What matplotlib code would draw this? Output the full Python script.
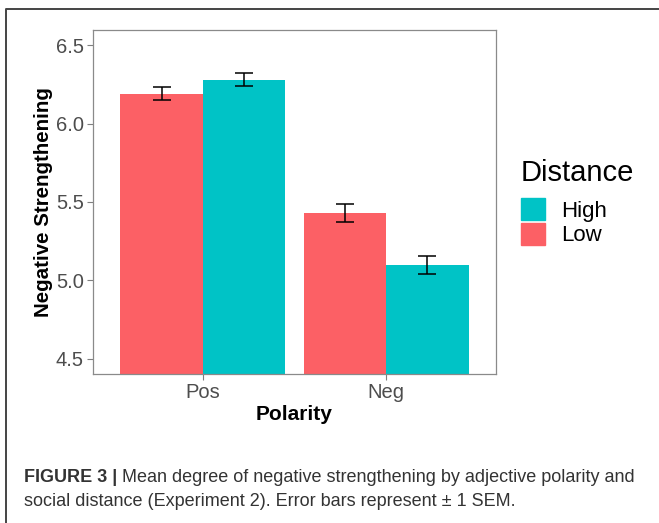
import matplotlib
matplotlib.use('Agg')
import matplotlib.pyplot as plt
from matplotlib.patches import Patch
from matplotlib.lines import Line2D
import numpy as np

plt.rcParams['font.family'] = ['Liberation Sans', 'DejaVu Sans']

# data
polarity = ['Pos', 'Neg']
distance = ['Low', 'High']
low_means = [6.19, 5.43]
high_means = [6.28, 5.10]
low_sem = [0.043, 0.057]
high_sem = [0.040, 0.058]
yticks = [4.5, 5.0, 5.5, 6.0, 6.5]

col_low = '#FC6065'
col_high = '#00C3C6'

fig = plt.figure(figsize=(6.59, 5.23), dpi=100)
ax = fig.add_axes([93 / 659, 1 - 374 / 523, 403 / 659, 344 / 523])

x = np.arange(len(polarity)) + 1
w = 0.45
err_kw = dict(ecolor='black', elinewidth=1.1, capsize=6.5, capthick=1.1)
ax.bar(x - w / 2, low_means, w, color=col_low, yerr=low_sem, error_kw=err_kw)
ax.bar(x + w / 2, high_means, w, color=col_high, yerr=high_sem, error_kw=err_kw)

ax.set_xlim(0.4, 2.6)
ax.set_ylim(4.404, 6.596)
ax.set_xticks(x)
ax.set_xticklabels(polarity)
ax.set_yticks(yticks)
ax.set_yticklabels([f'{v:.1f}' for v in yticks])
ax.tick_params(colors='#7f7f7f', labelcolor='#4d4d4d', labelsize=14.5,
               length=4, width=0.8, pad=2.5)
for s in ax.spines.values():
    s.set_color('#8a8a8a')
    s.set_linewidth(0.9)

ax.set_xlabel('Polarity', fontsize=15, fontweight='bold', labelpad=2)
ax.set_ylabel('Negative Strengthening', fontsize=14.8, fontweight='bold', labelpad=2)

handles = [Patch(color=col_high), Patch(color=col_low)]
leg = fig.legend(handles, ['High', 'Low'], title='Distance',
                 loc='upper left', bbox_to_anchor=(501 / 659, 1 - 139 / 523),
                 frameon=False, fontsize=16, title_fontsize=21,
                 handlelength=1.1, handleheight=1.15, handletextpad=0.7,
                 labelspacing=0.05)
leg._legend_box.align = 'left'
leg._legend_box.sep = 8

# outer frame of the figure panel
fig.add_artist(Line2D([6 / 659, 6 / 659, 1], [0, 1 - 9 / 523, 1 - 9 / 523],
                      transform=fig.transFigure, color='#444444', lw=1.4))

# caption
cap_col = '#333333'
t1 = fig.text(24 / 659, 1 - 478 / 523, 'FIGURE 3 |', fontsize=13,
              fontweight='bold', color=cap_col, va='center')
fig.canvas.draw()
bb = t1.get_window_extent()
fig.text(bb.x1 / 659 + 5 / 659, 1 - 478 / 523,
         'Mean degree of negative strengthening by adjective polarity and',
         fontsize=13, color=cap_col, va='center')
fig.text(24 / 659, 1 - 501 / 523,
         'social distance (Experiment 2). Error bars represent \u00b1 1 SEM.',
         fontsize=13, color=cap_col, va='center')

fig.savefig('out.png', dpi=100)
